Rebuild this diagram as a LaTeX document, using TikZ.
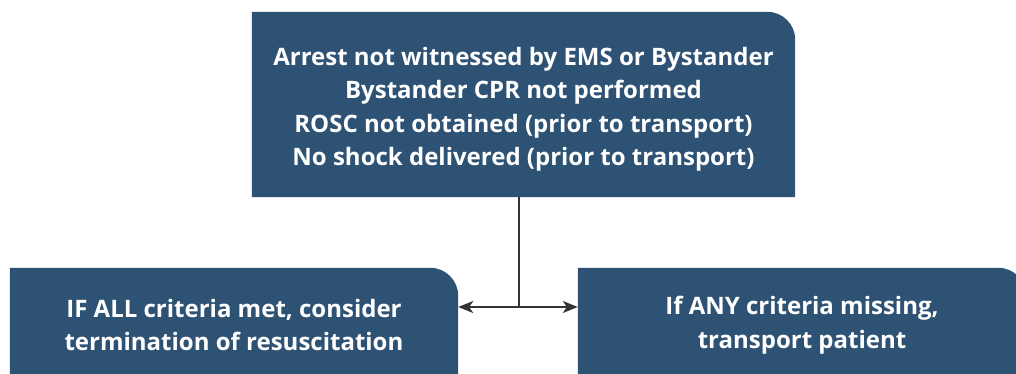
\documentclass[tikz,border=0pt]{standalone}
\usepackage{fontspec}
\setmainfont{Open Sans}
\usetikzlibrary{arrows.meta}
\definecolor{boxblue}{HTML}{2E5274}
\definecolor{linegray}{HTML}{333333}
\tikzset{
  boxtext/.style={align=center, text=white, font=\bfseries\fontsize{24}{33.5}\selectfont, inner sep=0pt},
  conn/.style={draw=linegray, line width=1.6pt},
  tip/.style={-{Stealth[length=15pt,width=12pt,inset=4pt]}},
}
\begin{document}
\begin{tikzpicture}[x=1pt,y=1pt]
\useasboundingbox (0,0) rectangle (1016,373);
\clip (0,0) rectangle (1016,373);
% top box
\node[minimum width=543pt, minimum height=185pt, inner sep=0pt] (top) at (523.5,268.5) {};
\fill[boxblue] (top.south west) -- (top.north west) -- ([xshift=-28pt]top.north east) arc[start angle=90,end angle=0,radius=28pt] -- (top.south east) -- cycle;
\node[boxtext] (toptext) at ([yshift=-5pt]top.center) {Arrest not witnessed by EMS or Bystander\\Bystander CPR not performed\\ROSC not obtained (prior to transport)\\No shock delivered (prior to transport)};
% left box
\node[minimum width=448pt, minimum height=114pt, inner sep=0pt] (left) at (234,48) {};
\fill[boxblue] (left.south west) -- (left.north west) -- ([xshift=-28pt]left.north east) arc[start angle=90,end angle=0,radius=28pt] -- (left.south east) -- cycle;
\node[boxtext] (lefttext) at (left.center) {IF ALL criteria met, consider\\termination of resuscitation};
% right box
\node[minimum width=448pt, minimum height=114pt, inner sep=0pt] (right) at (802,48) {};
\fill[boxblue] (right.south west) -- (right.north west) -- ([xshift=-28pt]right.north east) arc[start angle=90,end angle=0,radius=28pt] -- (right.south east) -- cycle;
\node[boxtext] (righttext) at (right.center) {If ANY criteria missing,\\transport patient};
% connectors
\coordinate (j) at (519,66);
\draw[conn] (top.south -| j) -- (j);
\draw[conn,tip] (j) -- (left.east |- j);
\draw[conn,tip] (j) -- (right.west |- j);
\end{tikzpicture}
\end{document}
